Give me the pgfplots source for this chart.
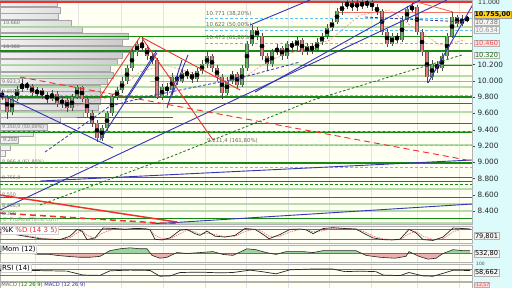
\documentclass[border=0pt]{standalone}
\usepackage{fontspec}
\setmainfont{DejaVu Sans}
\usepackage{pgfplots}
\usepackage{pgfplotstable}
\pgfplotsset{compat=1.18}

\definecolor{dgreen}{HTML}{168A16}
\definecolor{lgreen}{HTML}{A9D89C}
\definecolor{lblue}{HTML}{5EC4F0}
\definecolor{bblue}{HTML}{3535B5}
\definecolor{rred}{HTML}{F03030}
\definecolor{cream}{HTML}{FFFFF4}
\definecolor{cyanbg}{HTML}{DDFBFB}
\definecolor{upc}{HTML}{5CB85C}
\definecolor{dnc}{HTML}{E47878}
\definecolor{oscblue}{HTML}{6060E0}
\definecolor{gold}{HTML}{FFD21F}

\newcommand{\fs}[1]{\fontsize{#1}{#1}\selectfont}
\newcommand{\HL}[4]{\addplot[#1] coordinates {(#2,#4) (#3,#4)};}

\pgfplotstableread{
x bl bh wl wh
12 9.62 9.78 9.58 9.82
17 9.78 9.90 9.75 9.93
22 9.90 9.95 9.86 10.02
37 9.85 9.88 9.80 9.92
52 9.78 9.84 9.75 9.89
62 9.72 9.76 9.67 9.81
72 9.66 9.80 9.63 9.84
77 9.80 9.92 9.77 9.95
102 9.30 9.42 9.26 9.46
107 9.42 9.60 9.38 9.63
112 9.60 9.80 9.57 9.84
117 9.80 9.88 9.76 9.92
122 9.88 10.00 9.85 10.04
127 10.00 10.15 9.96 10.19
132 10.15 10.35 10.12 10.39
137 10.35 10.45 10.30 10.50
162 9.80 9.92 9.76 9.96
172 9.88 10.05 9.85 10.09
182 10.00 10.10 9.97 10.14
197 10.02 10.12 9.99 10.16
202 10.12 10.20 10.08 10.25
207 10.20 10.30 10.16 10.36
227 9.85 10.00 9.82 10.04
232 10.00 10.08 9.96 10.12
242 9.95 10.15 9.92 10.19
247 10.15 10.45 10.12 10.49
252 10.45 10.62 10.42 10.68
272 10.20 10.35 10.17 10.39
277 10.35 10.40 10.31 10.45
287 10.30 10.45 10.27 10.49
297 10.42 10.50 10.38 10.54
307 10.35 10.42 10.31 10.46
317 10.38 10.48 10.35 10.52
322 10.48 10.55 10.44 10.59
327 10.55 10.65 10.51 10.69
332 10.65 10.72 10.61 10.76
337 10.72 10.85 10.69 10.89
342 10.85 10.92 10.81 10.96
347 10.92 10.95 10.88 11.00
357 10.90 10.95 10.86 11.00
367 10.93 10.96 10.89 11.01
392 10.45 10.55 10.42 10.59
402 10.50 10.75 10.47 10.79
407 10.75 10.88 10.72 10.92
412 10.88 10.90 10.84 10.95
432 10.05 10.20 10.01 10.25
442 10.15 10.30 10.12 10.34
447 10.30 10.55 10.27 10.59
452 10.55 10.78 10.52 10.84
462 10.70 10.76 10.67 10.80
}\upT

\pgfplotstableread{
x bl bh wl wh
2 9.80 9.85 9.76 9.89
7 9.62 9.80 9.53 9.83
27 9.93 9.95 9.88 9.99
32 9.85 9.93 9.81 9.96
42 9.82 9.88 9.78 9.91
47 9.78 9.82 9.73 9.86
57 9.72 9.84 9.68 9.87
67 9.66 9.76 9.62 9.79
82 9.78 9.92 9.74 9.94
87 9.60 9.78 9.55 9.80
92 9.48 9.60 9.43 9.64
97 9.30 9.48 9.25 9.52
142 10.40 10.45 10.36 10.53
147 10.30 10.40 10.26 10.44
152 10.25 10.30 10.20 10.34
157 9.80 10.25 9.77 10.28
167 9.88 9.92 9.83 9.97
177 10.00 10.05 9.95 10.09
187 10.08 10.10 10.02 10.14
192 10.02 10.08 9.97 10.11
212 10.15 10.30 10.11 10.33
217 10.05 10.15 10.00 10.19
222 9.85 10.05 9.78 10.08
237 9.95 10.08 9.90 10.11
257 10.55 10.62 10.50 10.66
262 10.30 10.55 10.26 10.58
267 10.20 10.30 10.12 10.34
282 10.30 10.40 10.26 10.43
292 10.42 10.45 10.37 10.49
302 10.35 10.50 10.31 10.53
312 10.38 10.42 10.33 10.46
352 10.90 10.95 10.86 10.99
362 10.93 10.95 10.88 10.99
372 10.90 10.96 10.86 11.00
377 10.85 10.90 10.80 10.94
382 10.60 10.85 10.56 10.88
387 10.45 10.60 10.41 10.64
397 10.50 10.55 10.46 10.58
417 10.60 10.90 10.56 10.93
422 10.35 10.60 10.30 10.63
427 10.05 10.35 9.97 10.38
437 10.15 10.20 10.10 10.24
457 10.70 10.78 10.66 10.81
467 10.755 10.765 10.72 10.79
}\downT

\pgfplotsset{
  panel/.style={scale only axis, width=472pt, xmin=0, xmax=472,
    anchor=north west, axis background/.style={fill=cream},
    axis line style={gray!60},
    xtick={35,78,121,163,205,246,288,329,371,417,459}, xticklabels={},
    xmajorgrids, major grid style={gray!22, line width=0.4pt},
    x tick style={draw=none}, clip mode=individual},
  wick/.style={only marks, mark=none, error bars/.cd, y dir=both, y explicit,
    error mark=none, error bar style={line width=0.5pt, draw=black!70}},
  body/.style 2 args={only marks, mark=none, error bars/.cd, y dir=both, y explicit,
    error mark=none, error bar style={line width=#2, draw=#1}},
}
\tikzset{
  rbox/.style={anchor=west, inner sep=0.8pt, draw=gray!60, fill=white!92!gray, font=\fs{6.6}},
  lab/.style={anchor=west, inner sep=0pt, text=black!55, font=\fs{4.8}},
  fib/.style={anchor=west, inner sep=0pt, text=black!60, font=\fs{5.4}},
  olab/.style={anchor=north west, inner sep=0.8pt, fill=white, draw=gray!35, font=\fs{7}},
}

\begin{document}
\begin{tikzpicture}
\path[use as bounding box] (0,0) rectangle (512pt,-288pt);
\fill[white!94!gray] (0,0) rectangle (512pt,-288pt);
\fill[cyanbg] (472pt,0) rectangle (512pt,-288pt);

% ---------------- main price panel ----------------
\begin{axis}[panel, at={(0pt,0pt)}, height=224pt,
  ymin=8.242, ymax=10.99,
  ytick={8.4,8.6,8.8,9.0,9.2,9.4,9.6,9.8,10.0,10.2},
  yticklabels={8.400,8.600,8.800,9.000,9.200,9.400,9.600,9.800,10.000,10.200},
  ytick pos=right, yticklabel pos=right, tick align=outside,
  major tick length=2.5pt, y tick style={black!70},
  yticklabel style={font=\fs{7.3}, text=black!85, xshift=-0.5pt},
  /pgf/number format/assume math mode=true]

% volume profile
\addplot[xbar, bar width=0.074, draw=gray!70, left color=gray!10, right color=gray!42]
 coordinates {(57,10.95)(60,10.87)(58,10.79)(71,10.71)(82,10.63)(128,10.55)(122,10.47)
 (132,10.39)(122,10.31)(117,10.23)(110,10.15)(113,10.07)(107,9.99)(100,9.91)(100,9.83)
 (100,9.75)(98,9.67)(83,9.59)(60,9.51)(47,9.43)(33,9.35)(18,9.27)(10,9.19)(5,9.11)};

% light green zones
\HL{lgreen, line width=2.3pt, opacity=0.85}{0}{472}{10.659}
\HL{lgreen, line width=2.3pt, opacity=0.85}{0}{472}{10.192}
\HL{lgreen, line width=2.3pt, opacity=0.85}{0}{472}{10.057}
\HL{lgreen, line width=2.3pt, opacity=0.85}{0}{472}{9.922}
\HL{lgreen, line width=2.3pt, opacity=0.85}{0}{472}{9.616}
\HL{lgreen, line width=2.3pt, opacity=0.85}{0}{472}{9.211}
\HL{lgreen, line width=2.3pt, opacity=0.85}{0}{472}{8.671}
\HL{lgreen, line width=2.3pt, opacity=0.85}{0}{472}{8.487}
\HL{lgreen, line width=2.3pt, opacity=0.85}{0}{472}{8.401}
\HL{lgreen, line width=2.3pt, opacity=0.85}{0}{472}{8.254}
% dark green levels
\HL{dgreen, line width=1.0pt}{0}{472}{10.548}
\HL{dgreen, line width=1.0pt}{300}{472}{10.192}
\HL{dgreen, line width=1.0pt}{0}{472}{9.726}
\HL{dgreen, line width=0.8pt}{77}{173}{9.554}
\HL{dgreen, line width=1.0pt}{0}{472}{9.469}
\HL{dgreen, line width=1.0pt}{0}{472}{8.818}
\HL{dgreen, line width=1.0pt}{0}{472}{8.769}
\HL{dgreen, line width=1.0pt}{0}{472}{8.561}
\HL{dgreen, line width=1.0pt}{0}{472}{8.315}
\HL{dgreen, line width=1.6pt}{0}{472}{10.364}
\HL{dgreen, line width=1.6pt}{0}{472}{9.800}
\HL{dgreen, line width=1.6pt}{0}{472}{9.370}
\HL{dgreen, line width=1.6pt}{0}{472}{8.990}
\HL{dgreen, line width=0.8pt, dash pattern=on 3pt off 2pt}{0}{472}{8.732}
% light blue fib levels
\HL{lblue, line width=0.8pt, dash pattern=on 3pt off 2pt}{205}{472}{10.769}
\HL{lblue, line width=0.8pt, dash pattern=on 3pt off 2pt}{205}{472}{10.622}
\HL{lblue, line width=0.8pt, dash pattern=on 3pt off 2pt}{205}{472}{10.462}
\HL{lblue, line width=0.8pt, dash pattern=on 3pt off 2pt}{0}{472}{9.824}
\HL{lblue, line width=0.8pt, dash pattern=on 3pt off 2pt}{0}{472}{9.383}
\HL{lblue, line width=0.8pt, dash pattern=on 3pt off 2pt}{205}{472}{9.211}
\HL{lblue, line width=0.8pt, dash pattern=on 3pt off 2pt}{0}{472}{8.941}
\HL{lblue, line width=0.7pt}{150}{472}{9.996}
% red top levels
\HL{rred, line width=1.1pt}{0}{472}{10.965}
\HL{rred!70, line width=0.7pt}{335}{472}{10.843}

% moving average (pink dashed)
\addplot[rred!55, line width=0.6pt, dash pattern=on 2pt off 1.5pt]
 coordinates {(60,9.640)(110,9.800)(140,10.107)(165,10.192)(200,10.070)(240,10.008)
 (270,10.254)(300,10.377)(330,10.499)(360,10.806)(390,10.867)(410,10.683)(440,10.438)(465,10.499)};

% candles
\addplot[wick] table[x=x, y expr={(\thisrow{wl}+\thisrow{wh})/2}, y error expr={(\thisrow{wh}-\thisrow{wl})/2}] {\upT};
\addplot[wick] table[x=x, y expr={(\thisrow{wl}+\thisrow{wh})/2}, y error expr={(\thisrow{wh}-\thisrow{wl})/2}] {\downT};
\addplot[body={black!65}{3.4pt}] table[x=x, y expr={(\thisrow{bl}+\thisrow{bh})/2}, y error expr={(\thisrow{bh}-\thisrow{bl})/2}] {\upT};
\addplot[body={black!65}{3.4pt}] table[x=x, y expr={(\thisrow{bl}+\thisrow{bh})/2}, y error expr={(\thisrow{bh}-\thisrow{bl})/2}] {\downT};
\addplot[body={upc}{2.3pt}] table[x=x, y expr={(\thisrow{bl}+\thisrow{bh})/2}, y error expr={(\thisrow{bh}-\thisrow{bl})/2}] {\upT};
\addplot[body={dnc}{2.3pt}] table[x=x, y expr={(\thisrow{bl}+\thisrow{bh})/2}, y error expr={(\thisrow{bh}-\thisrow{bl})/2}] {\downT};

% blue trend lines
\addplot[bblue, line width=0.9pt] coordinates {(0,9.837)(113,9.174)};
\addplot[bblue, line width=0.9pt] coordinates {(0,8.413)(447,10.99)};
\addplot[bblue, line width=0.9pt] coordinates {(255,9.861)(420,10.99)};
\addplot[bblue, line width=0.9pt] coordinates {(250,10.683)(310,10.99)};
\addplot[bblue, line width=0.9pt] coordinates {(100,9.272)(157,10.340)};
\addplot[bblue, line width=0.9pt] coordinates {(125,9.763)(157,10.377)};
\addplot[bblue, line width=0.9pt] coordinates {(167,9.665)(182,10.254)};
\addplot[bblue, line width=0.9pt] coordinates {(172,9.824)(188,10.315)};
\addplot[bblue, line width=0.9pt] coordinates {(40,8.769)(472,9.027)};
\addplot[bblue, line width=0.9pt] coordinates {(150,8.241)(472,8.487)};
\addplot[bblue, line width=0.9pt] coordinates {(428,9.972)(480,11.088)};
\addplot[bblue, line width=0.8pt, dash pattern=on 3pt off 2pt] coordinates {(45,9.125)(110,9.689)(150,9.812)(240,10.033)(300,10.229)};
\addplot[bblue, line width=0.8pt, dash pattern=on 3pt off 2pt] coordinates {(365,10.781)(465,10.72)};
% green dashed
\addplot[dgreen!85!black, line width=0.8pt, dash pattern=on 2.5pt off 2pt] coordinates {(40,8.475)(170,9.064)(313,9.763)(462,10.315)};
% red lines
\addplot[rred, line width=0.9pt] coordinates {(100,9.800)(140,10.536)};
\addplot[rred, line width=0.9pt] coordinates {(142,10.524)(213,9.272)};
\addplot[rred, line width=0.9pt] coordinates {(143,10.524)(240,9.886)};
\addplot[rred!80, line width=0.8pt] coordinates {(417,10.965)(453,10.843)};
\addplot[rred, line width=0.9pt, dash pattern=on 6pt off 4pt] coordinates {(20,10.045)(472,9.015)};
\addplot[rred, line width=1.5pt] coordinates {(0,8.597)(177,8.266)};
\addplot[rred, line width=1.5pt, dash pattern=on 6pt off 4pt] coordinates {(0,8.376)(177,8.241)};

% left labels
\node[lab] at (axis cs:3,10.708) {10.660};
\node[lab] at (axis cs:3,10.413) {10.360};
\node[lab] at (axis cs:2,9.984) {9.923,3};
\node[lab] at (axis cs:2,9.861) {9.850,5};
\node[lab] at (axis cs:2,9.432) {9.350,0 (50,00\%)};
\node[lab] at (axis cs:3,9.272) {9.250};
\node[lab] at (axis cs:2,9.002) {8.966,4 (61,80\%)};
\node[lab] at (axis cs:2,8.806) {8.755,8};
\node[lab] at (axis cs:2,8.597) {8.550};
\node[lab] at (axis cs:2,8.462) {8.458,9};
\node[lab] at (axis cs:2,8.364) {8.300};
\node[lab, text=black!40, font=\fs{5.6}] at (axis cs:2,8.303) {© ProRealTime.com};
% fib labels
\node[fib] at (axis cs:206,10.818) {10.771 (38,20\%)};
\node[fib] at (axis cs:206,10.683) {10.622 (50,00\%)};
\node[fib] at (axis cs:206,10.524) {10.473 (61,80\%)};
\node[fib] at (axis cs:207,9.260) {9.211,4 (161,80\%)};
% right boxes
\node[anchor=north west, inner sep=0pt, font=\fs{6.2}, text=black!85] at (axis cs:478,10.99) {11.000};
\node[rbox, text=black!55] at (axis cs:474,10.72) {10.738};
\node[rbox, fill=gold, draw=gray!80, font=\fs{6.4}\bfseries, text=black] at (axis cs:473.5,10.806) {10.755,00};
\node[rbox, text=black!40] at (axis cs:474,10.622) {10.634};
\node[rbox, text=rred!85, fill=white!88!red] at (axis cs:474,10.462) {10.460};
\node[rbox, text=dgreen!80!black] at (axis cs:474,10.315) {10.320};
\end{axis}

% ---------------- %K %D ----------------
\begin{axis}[panel, at={(0pt,-226pt)}, height=17pt, ymin=0, ymax=100, ytick=\empty]
\addplot[oscblue, line width=0.8pt] coordinates {(0,80)(472,80)};
\addplot[oscblue, line width=0.8pt] coordinates {(0,20)(472,20)};
\addplot[rred!70, line width=0.7pt, dash pattern=on 1.5pt off 1pt] coordinates {(0,62)(10,58)(20,50)(30,40)(40,30)(50,24)(60,21)(70,30)(77,60)(82,72)(87,45)(95,28)(103,60)(115,84)(125,82)(135,83)(145,84)(150,80)(155,45)(162,25)(170,24)(180,55)(187,75)(195,65)(200,52)(207,58)(215,50)(225,38)(235,40)(245,68)(255,82)(262,68)(269,40)(280,40)(290,65)(300,80)(306,80)(313,65)(323,72)(333,87)(345,86)(356,83)(366,62)(373,40)(383,25)(392,19)(400,20)(409,55)(416,68)(423,40)(433,20)(443,25)(453,65)(463,85)(470,84)};
\addplot[black!85, line width=0.7pt] coordinates {(0,60)(10,55)(20,45)(30,35)(40,25)(50,22)(60,20)(70,40)(77,80)(82,70)(87,20)(95,30)(103,88)(115,85)(125,80)(135,86)(145,84)(150,78)(155,22)(162,18)(170,30)(180,75)(187,80)(195,55)(200,45)(207,70)(215,40)(225,35)(235,45)(245,85)(255,80)(262,55)(269,25)(280,50)(290,80)(300,82)(306,78)(313,55)(323,85)(333,90)(345,85)(356,82)(366,50)(373,30)(383,20)(392,18)(400,22)(409,80)(416,60)(423,20)(433,15)(443,35)(453,88)(463,85)(470,82)};
\node[olab] at (axis cs:1,100) {\%K \textcolor{rred}{\%D (14 3 5)}};
\node[rbox, text=black] at (axis cs:474,41) {79,801};
\end{axis}

% ---------------- Momentum ----------------
\begin{axis}[panel, at={(0pt,-245pt)}, height=17pt, ymin=-9, ymax=9, ytick=\empty]
\addplot[fill=upc!60, draw=none] coordinates {(0,0)(0,2)(10,1)(20,1)(30,0)(105,0)(110,3)(120,5)(130,6)(140,5)(147,5)(150.6,0)(175,0)(177,1)(187,0)(200,1)(213,2)(219.7,0)(237,0)(247,5)(256,4)(266,1)(271,0)(279.3,0)(286,2)(303,2)(313,1)(323,3)(340,3)(356,3)(362,0)(407.8,0)(409,2)(413,0)(443,0)(453,4)(463,3)(470,3)(470,0)};
\addplot[fill=dnc!60, draw=none] coordinates {(0,0)(30,0)(40,-1)(50,-1)(57,-2)(67,-3)(80,-4)(90,-4)(100,-3)(105,0)(150.6,0)(152,-2)(160,-5)(167,-4)(175,0)(219.7,0)(223,-1)(233,-2)(237,0)(271,0)(276,-1)(279.3,0)(362,0)(366,-2)(380,-4)(395,-5)(406,-3)(407.8,0)(413,0)(419,-3)(428,-6)(436,-5)(443,0)(470,0)};
\addplot[oscblue, line width=0.8pt] coordinates {(0,0)(472,0)};
\addplot[black!85, line width=0.6pt] coordinates {(0,2)(10,1)(20,1)(30,0)(40,-1)(50,-1)(57,-2)(67,-3)(80,-4)(90,-4)(100,-3)(110,3)(120,5)(130,6)(140,5)(147,5)(152,-2)(160,-5)(167,-4)(177,1)(187,0)(200,1)(213,2)(223,-1)(233,-2)(247,5)(256,4)(266,1)(276,-1)(286,2)(303,2)(313,1)(323,3)(340,3)(356,3)(366,-2)(380,-4)(395,-5)(406,-3)(409,2)(419,-3)(428,-6)(436,-5)(443,0)(453,4)(463,3)(470,3)};
\node[olab] at (axis cs:1,9) {Mom (12)};
\node[rbox, text=black] at (axis cs:474,0) {532,80};
\end{axis}

% ---------------- RSI ----------------
\begin{axis}[panel, at={(0pt,-264pt)}, height=17pt, ymin=0, ymax=100, ytick=\empty]
\addplot[oscblue, line width=0.8pt] coordinates {(0,70)(472,70)};
\addplot[oscblue, line width=0.8pt] coordinates {(0,30)(472,30)};
\addplot[black!85, line width=0.7pt] coordinates {(0,62)(20,60)(33,62)(50,60)(67,58)(83,35)(100,33)(110,60)(130,64)(150,62)(160,28)(170,30)(180,50)(200,52)(220,48)(233,50)(250,64)(262,55)(276,42)(290,66)(310,70)(333,70)(345,55)(360,58)(376,55)(383,35)(400,32)(409,50)(423,30)(433,28)(443,45)(453,63)(470,62)};
\node[olab] at (axis cs:1,100) {RSI (14)};
\node[rbox, text=black] at (axis cs:474,50) {58,662};
\node[anchor=west, inner sep=0pt, font=\fs{4.5}, text=black!70] at (axis cs:476,100) {100};
\end{axis}

% ---------------- MACD (cut) ----------------
\begin{axis}[panel, at={(0pt,-282.5pt)}, height=17pt, ymin=0, ymax=100, ytick=\empty]
\addplot[oscblue, line width=0.8pt] coordinates {(0,50)(472,50)};
\node[anchor=north west, inner sep=0.3pt, font=\fs{5.2}] at (axis cs:1,100) {\textcolor{black!60}{MACD} \textcolor{green!50!black}{(12 26 9)} \textcolor{bblue}{MACD (12 26 9)}};
\node[anchor=north west, inner sep=0.3pt, draw=gray!60, text=rred, fill=white!85!red, font=\fs{4.6}] at (axis cs:474,100) {-12,57};
\end{axis}
\end{tikzpicture}
\end{document}
